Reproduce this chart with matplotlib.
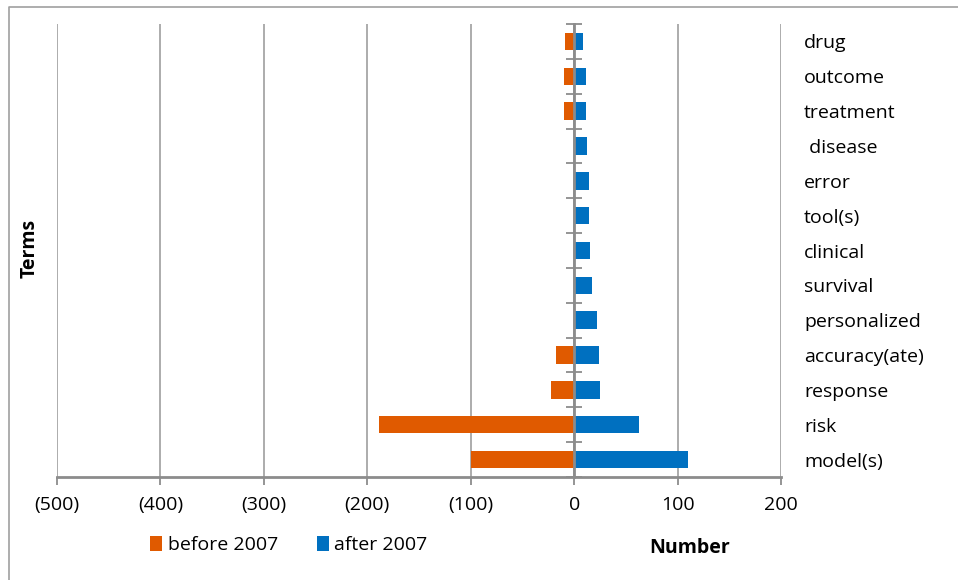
import matplotlib
matplotlib.use('Agg')
import matplotlib.pyplot as plt
from matplotlib.lines import Line2D
from matplotlib.ticker import FuncFormatter

# Terms from bottom to top
terms = ["model(s)", "risk", "response", "accuracy(ate)", "personalized", "survival",
         "clinical", "tool(s)", "error", " disease", "treatment", "outcome", "drug"]
before_2007 = [-100, -189, -22, -18, 0, 0, 0, 0, 0, 0, -10, -10, -9]
after_2007 = [110, 63, 25, 24, 22, 17, 15, 14, 14, 12, 11, 11, 9]

x_ticks = [-500, -400, -300, -200, -100, 0, 100, 200]

plt.rcParams['font.family'] = ['Open Sans', 'DejaVu Sans']

orange = '#E05A00'
blue = '#0070C0'
grid_gray = '#A6A6A6'
axis_gray = '#8C8C8C'
fs = 14

fig = plt.figure(figsize=(9.58, 5.8), dpi=100)
ax = fig.add_axes([57/958, 1-477/580, (781-57)/958, (477-24)/580])

pos = list(range(len(terms)))
ax.barh(pos, before_2007, height=0.5, color=orange, label='before 2007', zorder=3)
ax.barh(pos, after_2007, height=0.5, color=blue, label='after 2007', zorder=3)

ax.set_xlim(-500, 200)
ax.set_ylim(-0.5, len(terms)-0.5)
ax.set_xticks(x_ticks)
ax.xaxis.set_major_formatter(FuncFormatter(lambda v, p: f"({abs(int(v))})" if v < 0 else f"{int(v)}"))
ax.grid(axis='x', color=grid_gray, linewidth=1.3, zorder=0)

# category labels on the right, boundary ticks on the zero axis
ax.set_yticks(pos)
ax.set_yticklabels(terms)
ax.set_yticks([p - 0.5 for p in pos] + [len(terms)-0.5], minor=True)
ax.tick_params(axis='y', which='major', left=False, right=False, labelleft=False,
               labelright=True, pad=13, labelsize=fs)
ax.tick_params(axis='y', which='minor', left=True, right=False, direction='inout',
               length=11, width=1.3, color=axis_gray)
ax.tick_params(axis='x', which='major', direction='out', length=6, width=1.3,
               color=axis_gray, labelsize=fs, pad=8)

ax.spines['left'].set_position(('data', 0))
ax.spines['left'].set_color(axis_gray)
ax.spines['left'].set_linewidth(2)
ax.spines['left'].set_zorder(4)
ax.spines['bottom'].set_color(axis_gray)
ax.spines['bottom'].set_linewidth(2)
ax.spines['right'].set_visible(False)
ax.spines['top'].set_visible(False)

fig.text(30/958, 1-248/580, 'Terms', rotation=90, ha='center', va='center',
         fontsize=fs, fontweight='bold')
fig.text(690/958, 1-548/580, 'Number', ha='center', va='center',
         fontsize=fs, fontweight='bold')

fig.legend(loc='center', bbox_to_anchor=(289/958, 1-545/580), ncol=2, frameon=False,
           fontsize=fs, handlelength=0.6, handleheight=0.8, handletextpad=0.3,
           columnspacing=2.0)

# chart area border (only left and top edges visible)
fig.lines.append(Line2D([9/958, 9/958, 1], [0, 1-7/580, 1-7/580], transform=fig.transFigure,
                        color='#A0A0A0', linewidth=1.2))

fig.savefig('out.png', dpi=100)
